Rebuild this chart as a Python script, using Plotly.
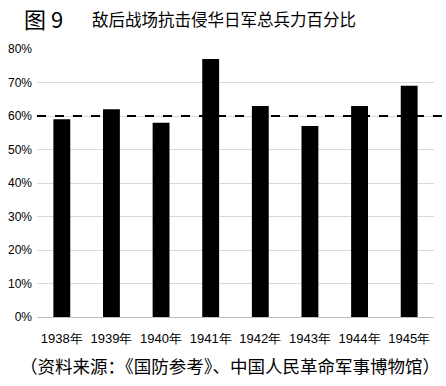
import plotly.graph_objects as go

years = ["1938年", "1939年", "1940年", "1941年", "1942年", "1943年", "1944年", "1945年"]
values = [0.59, 0.62, 0.58, 0.77, 0.63, 0.57, 0.63, 0.69]
ref_level = 0.60
y_ticks = [0, 0.1, 0.2, 0.3, 0.4, 0.5, 0.6, 0.7, 0.8]
y_tick_text = ["0%", "10%", "20%", "30%", "40%", "50%", "60%", "70%", "80%"]

fig = go.Figure()
fig.add_trace(go.Bar(x=years, y=values, marker=dict(color="black", line=dict(width=0)), width=0.34))

fig.add_shape(type="line", xref="paper", yref="y", x0=0, x1=1.03, y0=ref_level, y1=ref_level,
              line=dict(color="black", width=2, dash="dash"))

fig.add_annotation(text="图 9", xref="paper", yref="paper", x=-0.038, y=1.0, yshift=31,
                   xanchor="left", yanchor="middle", showarrow=False,
                   font=dict(family="Noto Sans CJK SC", size=22, color="black"))
fig.add_annotation(text="敌后战场抗击侵华日军总兵力百分比", xref="paper", yref="paper", x=0.133, y=1.0, yshift=30,
                   xanchor="left", yanchor="middle", showarrow=False,
                   font=dict(family="Noto Sans CJK SC", size=16.5, color="black"))
fig.add_annotation(text="（资料来源：《国防参考》、中国人民革命军事博物馆）", xref="paper", yref="paper", x=0.486, y=0, yshift=-48,
                   xanchor="center", yanchor="middle", showarrow=False,
                   font=dict(family="Noto Sans CJK SC", size=17.5, color="black"))

fig.update_layout(
    width=446, height=386,
    margin=dict(l=37, r=12, t=49, b=69),
    paper_bgcolor="white", plot_bgcolor="white",
    showlegend=False,
)
fig.update_xaxes(showgrid=False, showline=False, ticks="", automargin=False, ticklabelstandoff=12,
                 tickfont=dict(family="Liberation Sans", size=13, color="black"))
fig.update_yaxes(range=[0, 0.8], tickvals=y_ticks, ticktext=y_tick_text, automargin=False,
                 showgrid=True, gridcolor="#d9d9d9", gridwidth=1,
                 zeroline=True, zerolinecolor="#bfbfbf", zerolinewidth=1,
                 showline=False, ticks="", ticklabelstandoff=4,
                 tickfont=dict(family="Liberation Sans", size=12, color="black"))

fig.write_html("out.html", config={"displayModeBar": False},
               post_script="document.body.style.margin='0px';document.body.style.overflow='hidden';")
